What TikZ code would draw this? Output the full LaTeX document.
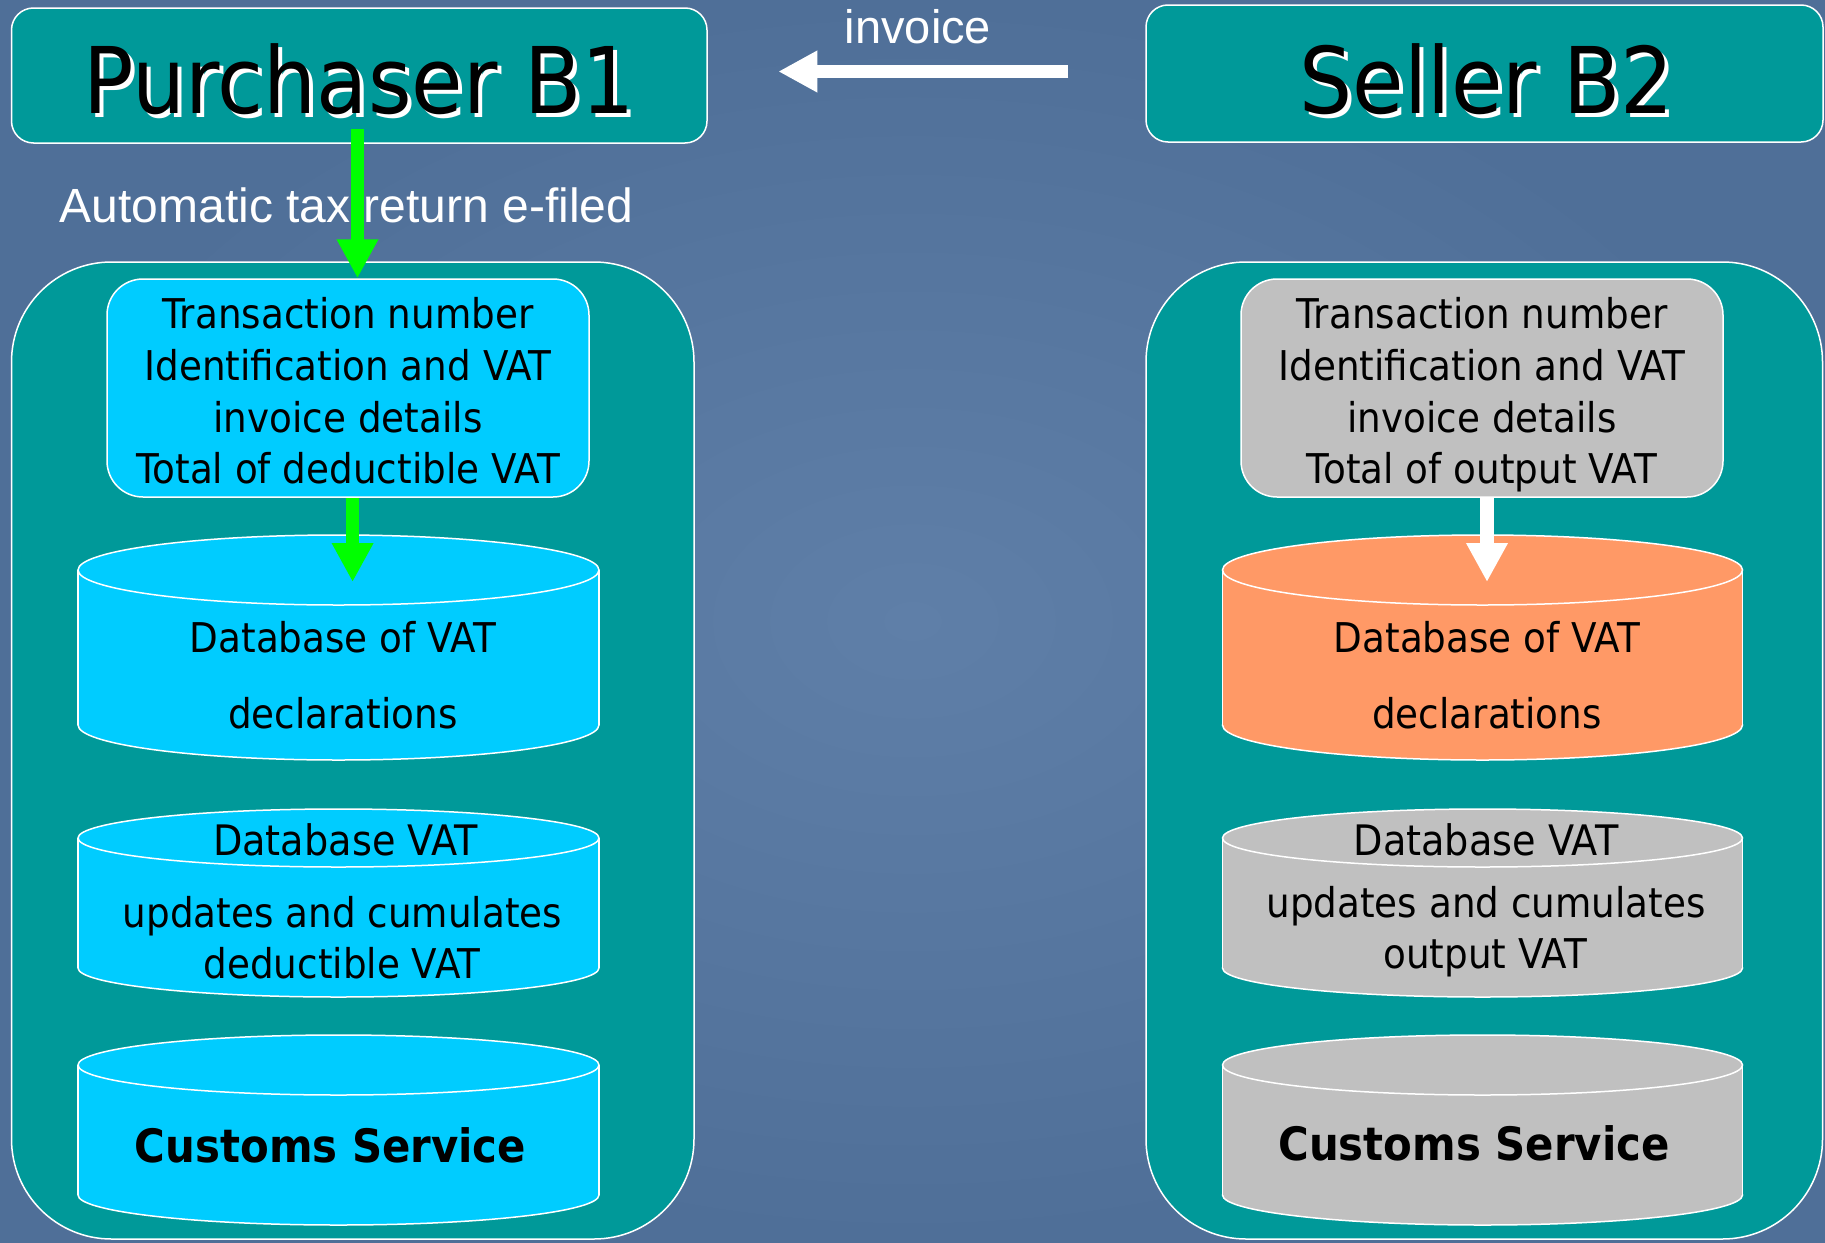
\documentclass[tikz,border=0pt]{standalone}
\usepackage{fontspec}
\newfontfamily\tah[FakeStretch=0.91]{DejaVu Sans}
\newfontfamily\ari{Liberation Sans}
\usetikzlibrary{arrows.meta,calc}
\definecolor{bgin}{HTML}{5F7FA8}
\definecolor{bgout}{HTML}{4F6F98}
\definecolor{tealc}{HTML}{009999}
\definecolor{cyanc}{HTML}{00CCFF}
\definecolor{grayc}{HTML}{C0C0C0}
\definecolor{orangec}{HTML}{FF9966}
\definecolor{grnc}{HTML}{00FF00}
\tikzset{
  panel/.style={draw=white, line width=1.5pt, fill=tealc, rounded corners=100pt, inner sep=0pt},
  titlebox/.style={draw=white, line width=1.5pt, fill=tealc, rounded corners=22pt, inner sep=0pt},
  infobox/.style={draw=white, line width=1.5pt, rounded corners=36pt, minimum width=482pt, minimum height=218pt, inner sep=0pt},
  body/.style={font=\tah\fontsize{41}{50}\selectfont, anchor=base, inner sep=0pt},
  bodyb/.style={font=\tah\bfseries\fontsize{46}{55}\selectfont, anchor=base, inner sep=0pt},
  title/.style={font=\tah\fontsize{92}{100}\selectfont, anchor=base, inner sep=0pt},
  wtxt/.style={font=\ari\fontsize{47}{55}\selectfont, text=white, anchor=base, inner sep=0pt},
  fatarrow/.style={line width=13.5pt, -{Triangle[width=39pt,length=39pt]}},
  outl/.style={draw=white, line width=1.5pt},
}
% text with a white drop shadow
\newcommand\shadowtxt[1]{\makebox[0pt][l]{\hspace{4pt}\raisebox{-4pt}{\color{white}#1}}#1}
% name, cx, top-centre y, bottom-centre y, rx, ry, colour
\newcommand\dbcyl[7]{%
  \fill[#7] (#2,#4) ellipse [x radius=#5, y radius=#6];
  \draw[outl] (#2,#4) ellipse [x radius=#5, y radius=#6];
  \fill[#7] (#2-#5,#3) rectangle (#2+#5,#4);
  \draw[outl] (#2-#5,#3) -- (#2-#5,#4) (#2+#5,#3) -- (#2+#5,#4);
  \filldraw[fill=#7, outl] (#2,#3) ellipse [x radius=#5, y radius=#6];
  \coordinate (#1) at (#2,#3);
}
\begin{document}
\begin{tikzpicture}[x=1pt,y=-1pt]
\useasboundingbox (0,0) rectangle (1825,1242);
\shade[inner color=bgin, outer color=bgout] (0,0) rectangle (1825,1242);

% panels
\node[panel, minimum width=682.5pt, minimum height=977pt] (lpanel) at (352.75,750.5) {};
\node[panel, minimum width=676.5pt, minimum height=977pt] (rpanel) at (1484.25,750.5) {};

% title boxes
\node[titlebox, minimum width=695.5pt, minimum height=135pt] (pb) at (359.25,75.5) {};
\node[titlebox, minimum width=677pt, minimum height=137pt] (sb) at (1484.5,73.5) {};
\node[title] (pbt) at (359,113) {\shadowtxt{Purchaser B1}};
\node[title] (sbt) at (1487,113) {\shadowtxt{Seller B2}};

% white labels
\node[wtxt] (inv) at (918,43) {invoice};
\node[wtxt, font=\ari\fontsize{48}{55}\selectfont] (auto) at (346.5,222) {Automatic tax return e-filed};

% info boxes
\node[infobox, fill=cyanc] (bbox) at (348,388) {};
\node[infobox, fill=grayc] (gbox) at (1482,388) {};
\node[body] (b1) at (348,328) {Transaction number};
\node[body] (b2) at (348,380) {Identification and VAT};
\node[body] (b3) at (348,432) {invoice details};
\node[body] (b4) at (348,483) {Total of deductible VAT};
\node[body] (g1) at (1482,328) {Transaction number};
\node[body] (g2) at (1482,380) {Identification and VAT};
\node[body] (g3) at (1482,432) {invoice details};
\node[body] (g4) at (1482,483) {Total of output VAT};

% databases
\dbcyl{cylA}{338.5}{570}{725}{260.5}{35}{cyanc}
\dbcyl{cylB}{338.5}{838}{968}{260.5}{29}{cyanc}
\dbcyl{cylC}{338.5}{1065}{1195}{260.5}{30}{cyanc}
\dbcyl{cylD}{1482.5}{570}{725}{260}{35}{orangec}
\dbcyl{cylE}{1482.5}{838}{968}{260}{29}{grayc}
\dbcyl{cylF}{1482.5}{1065}{1195}{260}{30}{grayc}

\node[body] (a1) at (343,652) {Database of VAT};
\node[body] (a2) at (343,728) {declarations};
\node[body, font=\tah\fontsize{42}{50}\selectfont] (bb1) at (345.5,855) {Database VAT};
\node[body] (bb2) at (342.5,927) {updates and cumulates};
\node[body] (bb3) at (342,978) {deductible VAT};
\node[bodyb] (c1) at (330.5,1162) {Customs Service};

\node[body] (d1) at (1487,652) {Database of VAT};
\node[body] (d2) at (1487,728) {declarations};
\node[body, font=\tah\fontsize{42}{50}\selectfont] (e1) at (1486,855) {Database VAT};
\node[body] (e2) at (1486,917) {updates and cumulates};
\node[body] (e3) at (1485,968) {output VAT};
\node[bodyb] (f1) at (1474,1160) {Customs Service};

% arrows
\coordinate (a1s) at ($(pb.south)+(-1.75,-15)$);
\coordinate (a1e) at (a1s |- bbox.north);
\draw[fatarrow, grnc] (a1s) -- (a1e);

\coordinate (a2s) at ($(bbox.south)+(4.6,0)$);
\coordinate (a2e) at ($(cylA)+(14.1,12)$);
\draw[fatarrow, grnc] (a2s) -- (a2e);

\coordinate (w2s) at ($(gbox.south)+(5,0)$);
\coordinate (w2e) at ($(cylD)+(4.5,12)$);
\draw[fatarrow, white] (w2s) -- (w2e);

\coordinate (invs) at ($(sb.west)+(-77,-2)$);
\coordinate (inve) at ($(pb.east)+(70.5,-4)$);
\draw[fatarrow, white] (invs) -- (inve);
\end{tikzpicture}
\end{document}
